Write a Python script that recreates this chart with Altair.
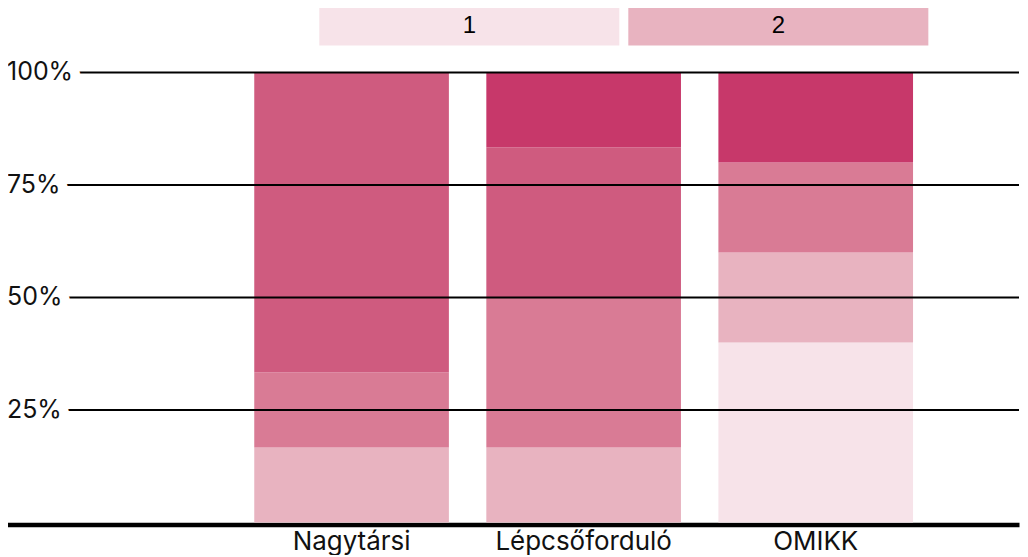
import altair as alt
import pandas as pd

# ---- data ----
categories = ["Nagytársi", "Lépcsőforduló", "OMIKK"]
levels = ["1", "2", "3", "4", "5"]
level_colors = ["#f7e3e9", "#e8b3c0", "#d97b95", "#cf5b7f", "#c7386a"]
# share of each level (1..5) within each category
share_nagytarsi = [0.0, 1 / 6, 1 / 6, 4 / 6, 0.0]
share_lepcso = [0.0, 1 / 6, 2 / 6, 2 / 6, 1 / 6]
share_omikk = [0.4, 0.2, 0.2, 0.0, 0.2]
y_tick_values = [0.25, 0.5, 0.75, 1.0]
y_tick_labels = ["25%", "50%", "75%", "100%"]
legend_items = ["1", "2"]

FONT = "Inter"
W = 1014

rows = []
for cat, shares in zip(categories, [share_nagytarsi, share_lepcso, share_omikk]):
    for i, (lvl, v) in enumerate(zip(levels, shares)):
        if v > 0:
            rows.append({"cat": cat, "level": lvl, "ord": i, "val": v})
df = pd.DataFrame(rows)
ticks_df = pd.DataFrame({"v": y_tick_values, "lab": y_tick_labels})
legend_df = pd.DataFrame({"item": legend_items})

color_scale = alt.Scale(domain=levels, range=level_colors)

bars = alt.Chart(df).mark_bar(opacity=1).encode(
    x=alt.X(
        "cat:N",
        sort=categories,
        scale=alt.Scale(paddingInner=0.1613, paddingOuter=0.761, align=0.70),
        axis=alt.Axis(
            title=None,
            labelFont=FONT,
            labelFontSize=26,
            labelColor="#111111",
            labelAngle=0,
            labelPadding=4,
            ticks=False,
            domainColor="#000000",
            domainWidth=4.5,
            offset=2,
        ),
    ),
    y=alt.Y("val:Q", stack="zero", scale=alt.Scale(domain=[0, 1], nice=False), axis=None),
    color=alt.Color("level:N", scale=color_scale, legend=None),
    order=alt.Order("ord:Q", sort="ascending"),
)

grid = alt.Chart(ticks_df).mark_rule(color="#000000", strokeWidth=2).encode(
    y=alt.Y("v:Q", scale=alt.Scale(domain=[0, 1], nice=False))
)

halo = alt.Chart(ticks_df).mark_text(
    align="left", baseline="middle", font=FONT, fontSize=25,
    fill="white", stroke="white", strokeWidth=20, strokeJoin="round",
).encode(y=alt.Y("v:Q"), x=alt.value(0), text="lab:N")

labels = alt.Chart(ticks_df).mark_text(
    align="left", baseline="middle", font=FONT, fontSize=25, color="#111111",
).encode(y=alt.Y("v:Q"), x=alt.value(0), text="lab:N")

main = alt.layer(bars, grid, halo, labels).properties(width=W, height=451)

leg_x = alt.X(
    "item:N",
    sort=legend_items,
    scale=alt.Scale(paddingInner=0.0291, paddingOuter=0.652, align=0.775),
    axis=None,
)
legend_rect = alt.Chart(legend_df).mark_rect().encode(
    x=leg_x,
    color=alt.Color("item:N", scale=color_scale, legend=None),
)
legend_text = alt.Chart(legend_df).mark_text(
    font="Liberation Sans", fontSize=24, color="#000000", baseline="middle"
).encode(x=leg_x, text="item:N")
legend = alt.layer(legend_rect, legend_text).properties(width=W, height=39)

chart = (
    alt.vconcat(legend, main, spacing=27, bounds="flush")
    .properties(padding={"left": -2, "top": -2, "right": 0, "bottom": 0}, background="white")
    .configure_view(stroke=None, strokeWidth=0)
)

chart.save("out.html", embed_options={"renderer": "svg", "actions": False})
